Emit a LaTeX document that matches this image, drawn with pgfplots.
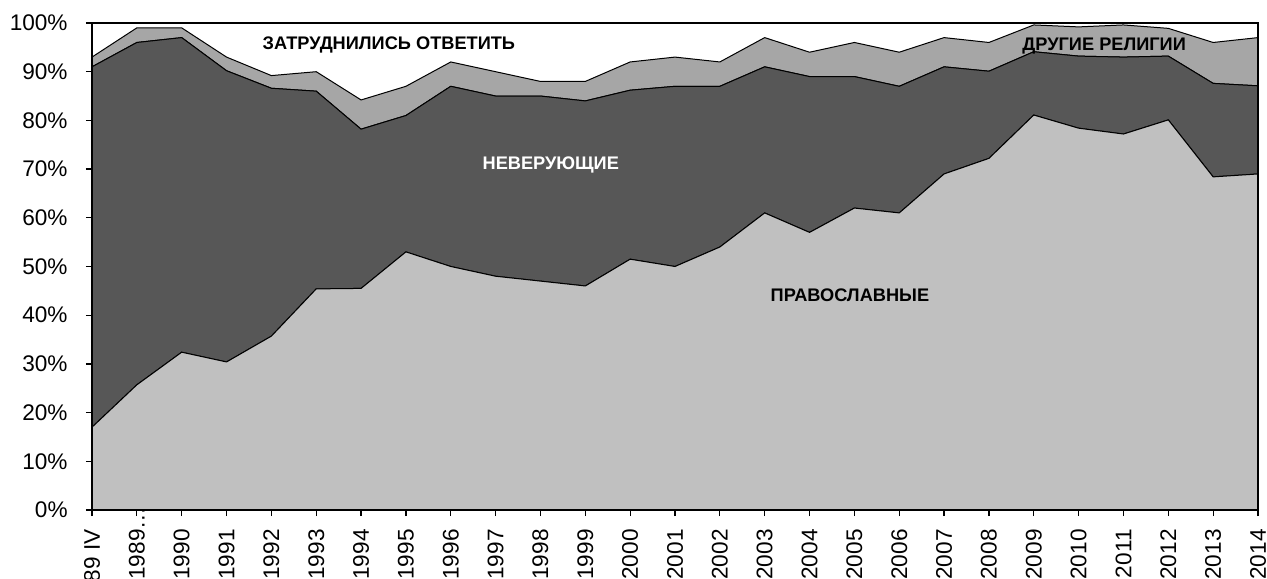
\documentclass[border=0pt]{standalone}
\usepackage{fontspec}
\setmainfont{Liberation Sans}
\usepackage{pgfplots}
\usepackage{pgfplotstable}
\pgfplotsset{compat=1.18}

\definecolor{orth}{HTML}{C0C0C0}
\definecolor{nonb}{HTML}{575757}
\definecolor{othr}{HTML}{A6A6A6}

% x  orthodox  nonbelievers  other religions (shares, %)
\pgfplotstableread{
x  O     N     R
0  17.0  74.0  2.0
1  25.7  70.3  3.0
2  32.4  64.6  2.0
3  30.4  59.8  2.8
4  35.7  50.9  2.6
5  45.4  40.6  4.0
6  45.5  32.7  6.0
7  53.0  28.0  6.0
8  50.0  37.0  5.0
9  48.0  37.0  5.0
10 47.0  38.0  3.0
11 46.0  38.0  4.0
12 51.5  34.7  5.8
13 50.0  37.0  6.0
14 54.0  33.0  5.0
15 61.0  30.0  6.0
16 57.0  32.0  5.0
17 62.0  27.0  7.0
18 61.0  26.0  7.0
19 69.0  22.0  6.0
20 72.2  17.9  5.9
21 81.1  13.0  5.5
22 78.4  14.8  6.0
23 77.2  15.8  6.6
24 80.1  13.1  5.7
25 68.4  19.2  8.4
26 69.0  18.1  9.9
}\data

\begin{document}
\begin{tikzpicture}[font=\fontsize{11.3}{13}\selectfont]
\begin{axis}[
    scale only axis, width=583pt, height=243.5pt,
    stack plots=y, axis on top,
    xmin=0, xmax=26, ymin=0, ymax=100,
    xtick={0,1,...,26},
    xticklabels={1989 IV,1989\rlap{…},1990,1991,1992,1993,1994,1995,1996,1997,1998,1999,2000,2001,2002,2003,2004,2005,2006,2007,2008,2009,2010,2011,2012,2013,2014},
    ytick={0,10,...,100},
    yticklabels={0\%,10\%,20\%,30\%,40\%,50\%,60\%,70\%,80\%,90\%,100\%},
    tick align=outside, tick pos=left, major tick length=3pt,
    tick style={black, line width=0.6pt},
    axis line style={black, line width=0.7pt},
    xticklabel style={rotate=90, anchor=east, inner sep=0pt, xshift=-6.5pt},
    yticklabel style={anchor=east, inner sep=0pt, xshift=-9pt},
]
\addplot[fill=orth, draw=black, line width=0.5pt, no marks] table[x=x, y=O] {\data} \closedcycle;
\addplot[fill=nonb, draw=black, line width=0.5pt, no marks] table[x=x, y=N] {\data} \closedcycle;
\addplot[fill=othr, draw=black, line width=0.5pt, no marks] table[x=x, y=R] {\data} \closedcycle;

\coordinate (l1) at (axis cs:6.62,95.5);
\coordinate (l2) at (axis cs:10.23,70.8);
\coordinate (l3) at (axis cs:16.9,44.0);
\coordinate (l4) at (axis cs:22.57,95.3);
\end{axis}
\begin{scope}[every node/.style={font=\fontsize{9.1}{11}\selectfont\bfseries}]
\node at (l1) {ЗАТРУДНИЛИСЬ ОТВЕТИТЬ};
\node[text=white] at (l2) {НЕВЕРУЮЩИЕ};
\node at (l3) {ПРАВОСЛАВНЫЕ};
\node at (l4) {ДРУГИЕ РЕЛИГИИ};
\end{scope}
\pgfresetboundingbox
\path ([xshift=-46pt,yshift=-34pt]current axis.south west) rectangle ([xshift=4.5pt,yshift=11.5pt]current axis.north east);
\end{tikzpicture}
\end{document}
